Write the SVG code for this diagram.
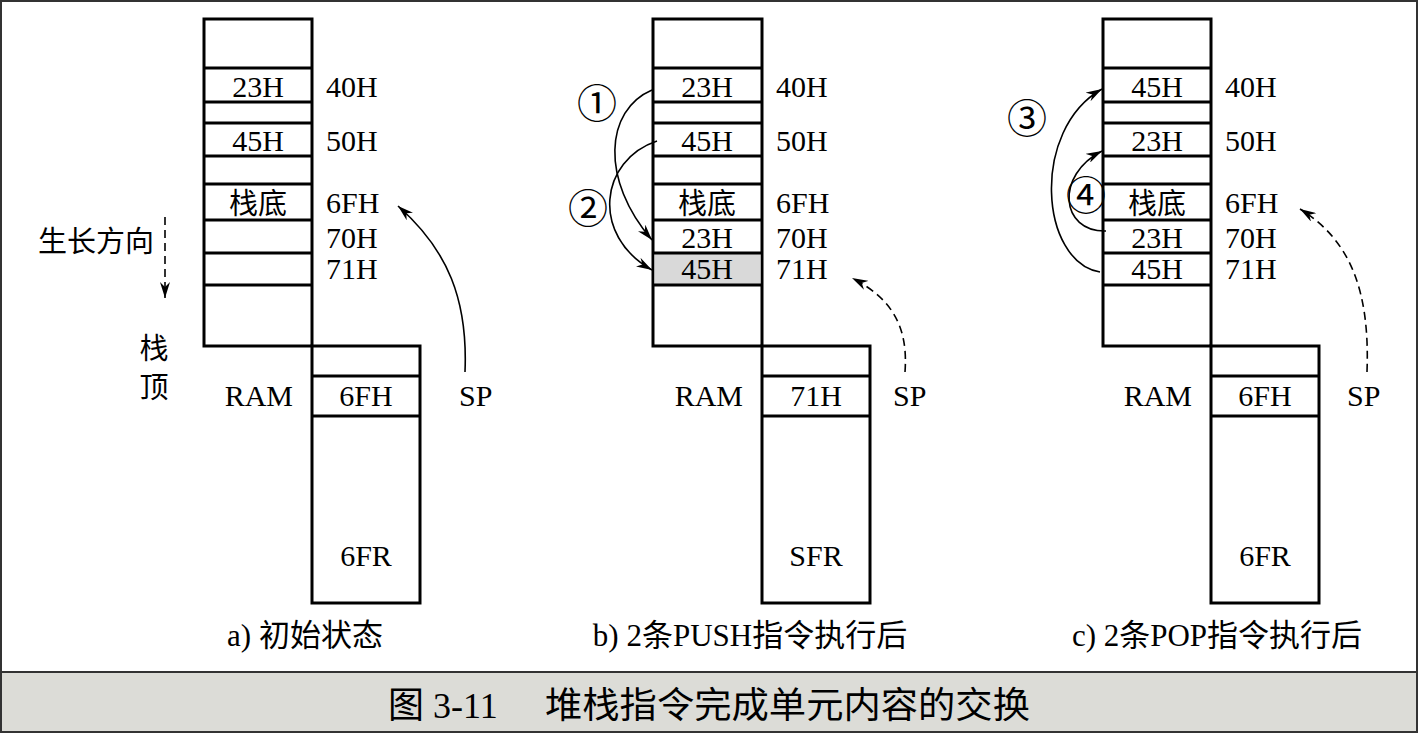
<svg xmlns="http://www.w3.org/2000/svg" width="1418" height="733" viewBox="0 0 1418 733">
<defs>
<style>
.box{fill:#fff;stroke:#000;stroke-width:3}
.ln{stroke:#000;stroke-width:3}
.t{font-family:"Liberation Serif","Noto Sans CJK SC",serif;font-size:30px;fill:#000}
.m{text-anchor:middle}
.e{text-anchor:end}
.cj{font-family:"Noto Sans CJK SC",sans-serif;font-size:29px;fill:#000}
.cn{font-family:"Noto Sans CJK SC","DejaVu Sans",sans-serif;font-size:40px;fill:#000;text-anchor:middle}
.c{fill:none;stroke:#000;stroke-width:1.6}
.d{fill:none;stroke:#000;stroke-width:1.6;stroke-dasharray:8 5}
.cap{font-family:"Liberation Serif","Noto Sans CJK SC",serif;font-size:31px;fill:#000;text-anchor:middle}
</style>
<marker id="ah" markerUnits="userSpaceOnUse" markerWidth="18" markerHeight="10" refX="16" refY="5" orient="auto">
<path d="M0,0 L16,5 L0,10 L5,5 z" fill="#000"/>
</marker>
</defs>
<rect x="0" y="0" width="1418" height="733" fill="#fff"/>
<rect x="0" y="672" width="1418" height="61" fill="#dcdcd7"/>
<line x1="0" y1="672" x2="1418" y2="672" stroke="#333" stroke-width="2"/>
<rect x="1" y="1" width="1416" height="731" fill="none" stroke="#333" stroke-width="2"/>

<!-- Panel a -->
<g id="a-ram">
<rect class="box" x="204" y="19" width="108" height="327"/>
<line class="ln" x1="204" y1="68" x2="312" y2="68"/>
<line class="ln" x1="204" y1="102" x2="312" y2="102"/>
<line class="ln" x1="204" y1="123" x2="312" y2="123"/>
<line class="ln" x1="204" y1="156" x2="312" y2="156"/>
<line class="ln" x1="204" y1="184" x2="312" y2="184"/>
<line class="ln" x1="204" y1="220" x2="312" y2="220"/>
<line class="ln" x1="204" y1="253" x2="312" y2="253"/>
<line class="ln" x1="204" y1="285" x2="312" y2="285"/>
<text class="t m" x="258" y="97">23H</text>
<text class="t m" x="258" y="151">45H</text>
<text class="cj" x="258" y="214" text-anchor="middle">栈底</text>
<text class="t" x="326" y="97">40H</text>
<text class="t" x="326" y="151">50H</text>
<text class="t" x="326" y="213">6FH</text>
<text class="t" x="326" y="248">70H</text>
<text class="t" x="326" y="279">71H</text>
<text class="t e" x="293" y="406">RAM</text>
</g>
<g id="a-sfr">
<rect class="box" x="312" y="346" width="108" height="257"/>
<line class="ln" x1="312" y1="376" x2="420" y2="376"/>
<line class="ln" x1="312" y1="416" x2="420" y2="416"/>
<text class="t m" x="366" y="406">6FH</text>
<text class="t m" x="366" y="566">6FR</text>
</g>
<g id="a-labels">
<text class="cj" x="38" y="252">生长方向</text>
<text class="cj" x="154" y="359" text-anchor="middle" font-size="27">栈</text>
<text class="cj" x="154" y="398" text-anchor="middle" font-size="27">顶</text>
<text class="t" x="459" y="406">SP</text>
<text class="cap" x="305" y="646">a) 初始状态</text>
</g>

<!-- Panel b -->
<g id="b-ram">
<rect class="box" x="653" y="19" width="109" height="327"/>
<rect x="654.5" y="253" width="106" height="32" fill="#d9d9d9"/>
<line class="ln" x1="653" y1="68" x2="762" y2="68"/>
<line class="ln" x1="653" y1="102" x2="762" y2="102"/>
<line class="ln" x1="653" y1="123" x2="762" y2="123"/>
<line class="ln" x1="653" y1="156" x2="762" y2="156"/>
<line class="ln" x1="653" y1="184" x2="762" y2="184"/>
<line class="ln" x1="653" y1="220" x2="762" y2="220"/>
<line class="ln" x1="653" y1="253" x2="762" y2="253"/>
<line class="ln" x1="653" y1="285" x2="762" y2="285"/>
<text class="t m" x="707" y="97">23H</text>
<text class="t m" x="707" y="151">45H</text>
<text class="cj" x="707" y="214" text-anchor="middle">栈底</text>
<text class="t m" x="707" y="248">23H</text>
<text class="t m" x="707" y="279">45H</text>
<text class="t" x="776" y="97">40H</text>
<text class="t" x="776" y="151">50H</text>
<text class="t" x="776" y="213">6FH</text>
<text class="t" x="776" y="248">70H</text>
<text class="t" x="776" y="279">71H</text>
<text class="t e" x="743" y="406">RAM</text>
</g>
<g id="b-sfr">
<rect class="box" x="762" y="346" width="108" height="257"/>
<line class="ln" x1="762" y1="376" x2="870" y2="376"/>
<line class="ln" x1="762" y1="416" x2="870" y2="416"/>
<text class="t m" x="816" y="406">71H</text>
<text class="t m" x="816" y="566">SFR</text>
</g>
<g id="b-labels">
<text class="t" x="893" y="406">SP</text>
<text class="cn" x="597" y="118">①</text>
<text class="cn" x="588" y="223">②</text>
<text class="cap" x="750" y="646">b) 2条PUSH指令执行后</text>
</g>

<!-- Panel c -->
<g id="c-ram">
<rect class="box" x="1103" y="19" width="108" height="327"/>
<line class="ln" x1="1103" y1="68" x2="1211" y2="68"/>
<line class="ln" x1="1103" y1="102" x2="1211" y2="102"/>
<line class="ln" x1="1103" y1="123" x2="1211" y2="123"/>
<line class="ln" x1="1103" y1="156" x2="1211" y2="156"/>
<line class="ln" x1="1103" y1="184" x2="1211" y2="184"/>
<line class="ln" x1="1103" y1="220" x2="1211" y2="220"/>
<line class="ln" x1="1103" y1="253" x2="1211" y2="253"/>
<line class="ln" x1="1103" y1="285" x2="1211" y2="285"/>
<text class="t m" x="1157" y="97">45H</text>
<text class="t m" x="1157" y="151">23H</text>
<text class="cj" x="1157" y="214" text-anchor="middle">栈底</text>
<text class="t m" x="1157" y="248">23H</text>
<text class="t m" x="1157" y="279">45H</text>
<text class="t" x="1225" y="97">40H</text>
<text class="t" x="1225" y="151">50H</text>
<text class="t" x="1225" y="213">6FH</text>
<text class="t" x="1225" y="248">70H</text>
<text class="t" x="1225" y="279">71H</text>
<text class="t e" x="1192" y="406">RAM</text>
</g>
<g id="c-sfr">
<rect class="box" x="1211" y="346" width="108" height="257"/>
<line class="ln" x1="1211" y1="376" x2="1319" y2="376"/>
<line class="ln" x1="1211" y1="416" x2="1319" y2="416"/>
<text class="t m" x="1265" y="406">6FH</text>
<text class="t m" x="1265" y="566">6FR</text>
</g>
<g id="c-labels">
<text class="t" x="1347" y="406">SP</text>
<text class="cn" x="1027" y="133">③</text>
<text class="cn" x="1086" y="210">④</text>
<text class="cap" x="1217" y="646">c) 2条POP指令执行后</text>
</g>

<!-- Connectors -->
<g id="connectors">
<path class="d" d="M165,217 L165,298" marker-end="url(#ah)"/>
<path class="c" d="M465,372 C468,300 448,250 398,206" marker-end="url(#ah)"/>
<path class="c" d="M652,90 C605,110 600,180 652,240" marker-end="url(#ah)"/>
<path class="c" d="M657,141 C600,160 590,235 652,270" marker-end="url(#ah)"/>
<path class="d" d="M905,372 C908,330 895,300 852,278" marker-end="url(#ah)"/>
<path class="c" d="M1100,272 C1040,262 1030,130 1102,89" marker-end="url(#ah)"/>
<path class="c" d="M1106,231 C1060,232 1055,175 1102,151" marker-end="url(#ah)"/>
<path class="d" d="M1367,372 C1370,290 1350,240 1300,209" marker-end="url(#ah)"/>
</g>

<g id="caption">
<text x="388" y="718" font-family="'Liberation Serif','Noto Sans CJK SC',serif" font-size="36" fill="#000">图 3-11</text>
<text x="545" y="718" font-family="'Liberation Serif','Noto Sans CJK SC',serif" font-size="36" fill="#000" textLength="485" lengthAdjust="spacingAndGlyphs">堆栈指令完成单元内容的交换</text>
</g>
</svg>
